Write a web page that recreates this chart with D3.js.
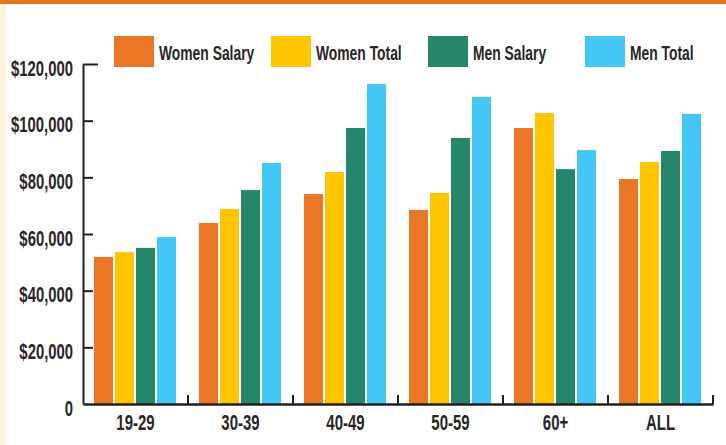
<!DOCTYPE html>
<meta charset="utf-8">
<style>
    body { margin: 0; background: #fff; }
    #chart text { font-family: "Liberation Sans", Arial, sans-serif; font-weight: bold; fill: #2a2627; }
</style>
<svg id="chart" width="726" height="445"></svg>
<script src="https://cdn.jsdelivr.net/npm/d3@7"></script>
<script>
    const categories = ["19-29", "30-39", "40-49", "50-59", "60+", "ALL"];
    const seriesNames = ["Women Salary", "Women Total", "Men Salary", "Men Total"];
    const seriesColors = ["#ea7725", "#ffc600", "#26866b", "#43c8f5"];
    const womenSalary = [51900, 63900, 74100, 68500, 97400, 79400];
    const womenTotal = [53600, 68800, 81900, 74500, 102700, 85400];
    const menSalary = [55100, 75500, 97400, 93900, 82900, 89300];
    const menTotal = [58900, 85100, 112900, 108400, 89600, 102400];
    const yTicks = [0, 20000, 40000, 60000, 80000, 100000, 120000];

    const seriesValues = [womenSalary, womenTotal, menSalary, menTotal];
    const svg = d3.select("#chart");

    // the original uses a condensed face, squeeze the glyphs to match
    function condense(sel, k) {
        sel.each(function() {
            const w = this.getComputedTextLength();
            d3.select(this).attr("textLength", w * k).attr("lengthAdjust", "spacingAndGlyphs");
        });
    }

    // page decoration: orange strip on top, pale edge on the left
    svg.append("rect").attr("x", 0).attr("y", 0).attr("width", 726).attr("height", 4).attr("fill", "#e87722");
    svg.append("rect").attr("x", 0).attr("y", 4).attr("width", 6).attr("height", 441).attr("fill", "#fdf3dc");

    const x = d3.scaleBand().domain(categories).range([83, 713]);
    const xInner = d3.scaleBand().domain(seriesNames).range([11, 93]).paddingInner(2 / 21);
    const y = d3.scaleLinear().domain([0, 120000]).range([404, 64]);

    // bars
    const groups = svg.append("g").selectAll("g")
        .data(categories)
        .join("g")
        .attr("transform", d => `translate(${x(d)},0)`);

    groups.selectAll("rect")
        .data((d, i) => seriesNames.map((s, j) => ({ s, j, v: seriesValues[j][i] })))
        .join("rect")
        .attr("x", d => xInner(d.s))
        .attr("y", d => y(d.v))
        .attr("width", xInner.bandwidth())
        .attr("height", d => y(0) - y(d.v))
        .attr("fill", d => seriesColors[d.j]);

    // y axis
    const yAxis = svg.append("g")
        .attr("transform", "translate(83,0)")
        .call(d3.axisLeft(y).tickValues(yTicks).tickSize(-10).tickSizeOuter(0).tickPadding(10)
            .tickFormat(d => d === 0 ? "0" : "$" + d3.format(",")(d)));
    yAxis.select(".domain").attr("stroke", "#231f20").attr("stroke-width", 2);
    yAxis.selectAll(".tick line").attr("stroke", "#231f20").attr("stroke-width", 2)
        .filter(d => d === 120000).attr("x2", 15);
    yAxis.selectAll(".tick line").filter(d => d === 0).remove();
    yAxis.selectAll("text").attr("font-size", 21.5).attr("dy", "0.52em").call(condense, 0.69);

    // x axis
    const xAxis = svg.append("g")
        .attr("transform", "translate(0,404)")
        .call(d3.axisBottom(x).tickSize(0).tickPadding(10));
    xAxis.select(".domain").attr("stroke", "#231f20").attr("stroke-width", 2.5);
    xAxis.selectAll("text").attr("font-size", 22).call(condense, 0.68);

    svg.append("g").selectAll("line")
        .data(categories)
        .join("line")
        .attr("x1", d => x(d) + x.bandwidth())
        .attr("x2", d => x(d) + x.bandwidth())
        .attr("y1", 404)
        .attr("y2", 395)
        .attr("stroke", "#231f20")
        .attr("stroke-width", 2);

    // legend
    const legend = svg.append("g").selectAll("g")
        .data(seriesNames)
        .join("g")
        .attr("transform", (d, i) => `translate(${114 + i * 157},36)`);
    legend.append("rect")
        .attr("width", 40)
        .attr("height", 31)
        .attr("fill", (d, i) => seriesColors[i]);
    legend.append("text")
        .attr("x", 45)
        .attr("y", 16)
        .attr("dy", "0.36em")
        .attr("font-size", 21)
        .text(d => d)
        .call(condense, 0.66);
</script>
